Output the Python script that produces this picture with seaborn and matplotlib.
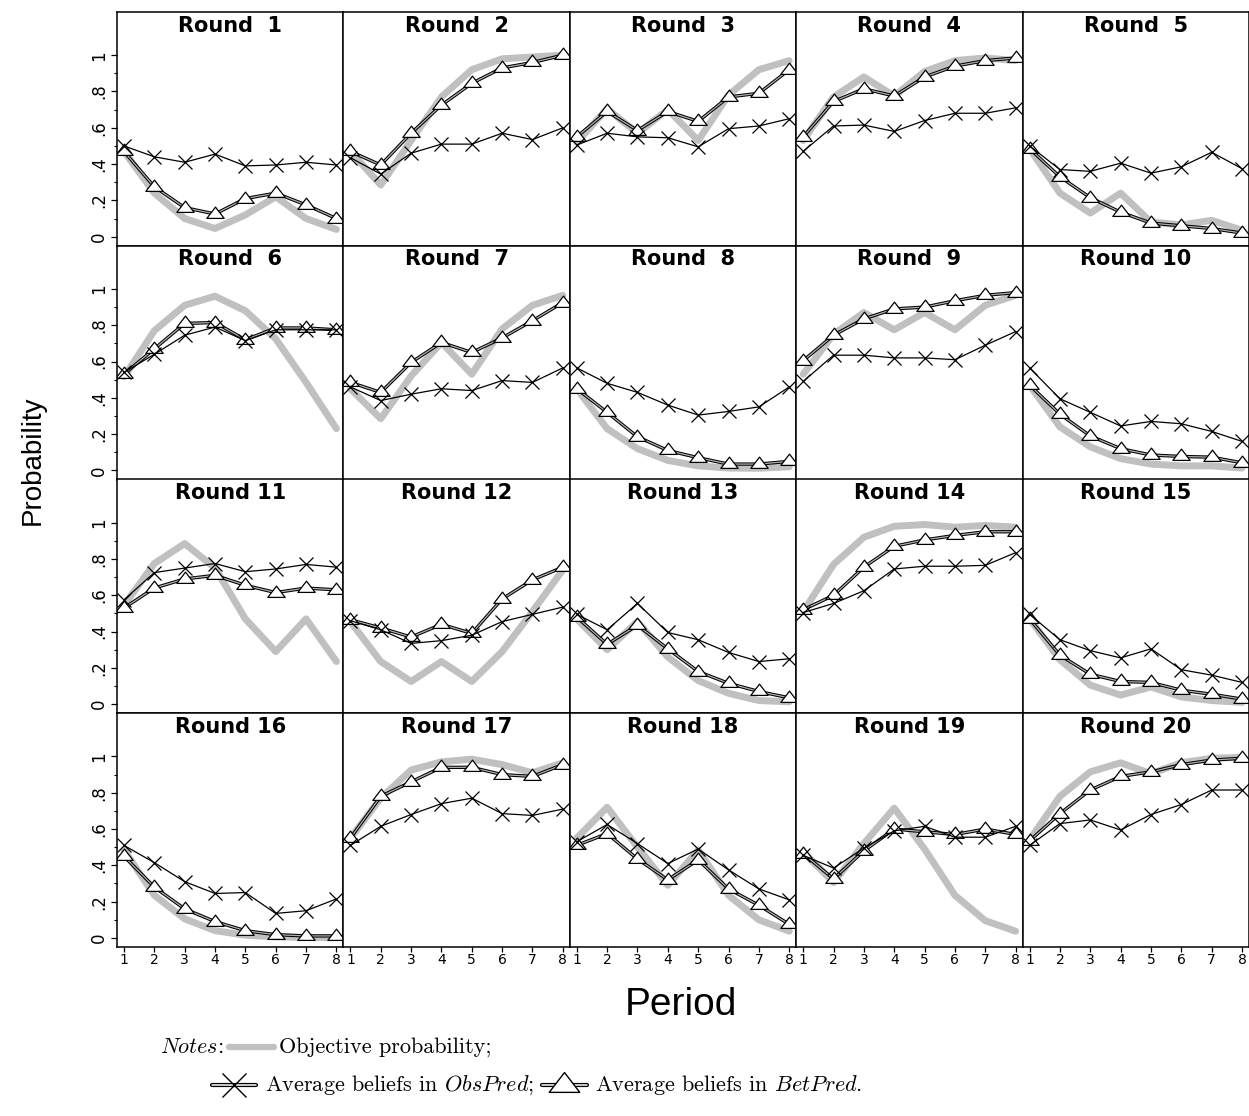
import numpy as np
import pandas as pd
import seaborn as sns
import matplotlib.pyplot as plt
from matplotlib.lines import Line2D
from matplotlib.path import Path
from matplotlib.offsetbox import HPacker, TextArea, DrawingArea, AnchoredOffsetbox


# Data (20 rounds x 8 periods)
periods = [1, 2, 3, 4, 5, 6, 7, 8]
round_labels = [f'Round  {r}' if r < 10 else f'Round {r}' for r in range(1, 21)]

objective = [
    [0.47, 0.24, 0.10, 0.045, 0.12, 0.22, 0.10, 0.04],
    [0.47, 0.285, 0.53, 0.77, 0.92, 0.98, 0.99, 1.0],
    [0.52, 0.705, 0.57, 0.70, 0.53, 0.78, 0.92, 0.97],
    [0.53, 0.77, 0.88, 0.775, 0.91, 0.97, 0.985, 0.97],
    [0.485, 0.24, 0.13, 0.24, 0.08, 0.065, 0.09, 0.035],
    [0.515, 0.77, 0.91, 0.96, 0.88, 0.725, 0.485, 0.23],
    [0.45, 0.285, 0.52, 0.705, 0.53, 0.78, 0.91, 0.965],
    [0.45, 0.23, 0.12, 0.055, 0.025, 0.013, 0.012, 0.02],
    [0.53, 0.75, 0.87, 0.775, 0.87, 0.775, 0.91, 0.965],
    [0.47, 0.24, 0.13, 0.065, 0.035, 0.025, 0.025, 0.013],
    [0.545, 0.775, 0.885, 0.75, 0.47, 0.29, 0.47, 0.235],
    [0.455, 0.235, 0.125, 0.235, 0.125, 0.29, 0.51, 0.74],
    [0.47, 0.30, 0.455, 0.26, 0.13, 0.06, 0.02, 0.013],
    [0.51, 0.77, 0.92, 0.98, 0.99, 0.975, 0.985, 0.975],
    [0.47, 0.245, 0.105, 0.05, 0.095, 0.04, 0.02, 0.01],
    [0.485, 0.235, 0.105, 0.04, 0.015, 0.006, 0.002, 0.002],
    [0.55, 0.77, 0.925, 0.97, 0.985, 0.955, 0.91, 0.965],
    [0.55, 0.72, 0.50, 0.29, 0.485, 0.235, 0.10, 0.037],
    [0.475, 0.305, 0.52, 0.715, 0.49, 0.235, 0.095, 0.037],
    [0.54, 0.78, 0.915, 0.965, 0.905, 0.965, 0.99, 0.995],
]

bet_pred = [
    [0.47, 0.275, 0.16, 0.125, 0.21, 0.24, 0.175, 0.10],
    [0.47, 0.395, 0.57, 0.725, 0.845, 0.93, 0.96, 1.0],
    [0.55, 0.69, 0.585, 0.69, 0.635, 0.77, 0.79, 0.92],
    [0.55, 0.745, 0.815, 0.775, 0.88, 0.94, 0.97, 0.985],
    [0.485, 0.33, 0.215, 0.135, 0.075, 0.06, 0.045, 0.02],
    [0.53, 0.67, 0.81, 0.815, 0.72, 0.785, 0.785, 0.775],
    [0.485, 0.43, 0.595, 0.705, 0.65, 0.73, 0.825, 0.925],
    [0.45, 0.32, 0.185, 0.11, 0.07, 0.035, 0.035, 0.05],
    [0.605, 0.745, 0.835, 0.89, 0.90, 0.935, 0.965, 0.98],
    [0.47, 0.31, 0.19, 0.12, 0.085, 0.077, 0.073, 0.042],
    [0.53, 0.64, 0.69, 0.71, 0.655, 0.615, 0.64, 0.63],
    [0.465, 0.42, 0.37, 0.44, 0.39, 0.58, 0.685, 0.755],
    [0.48, 0.33, 0.435, 0.305, 0.18, 0.115, 0.07, 0.035],
    [0.52, 0.60, 0.755, 0.87, 0.905, 0.93, 0.95, 0.95],
    [0.47, 0.27, 0.165, 0.125, 0.12, 0.077, 0.055, 0.028],
    [0.45, 0.28, 0.16, 0.09, 0.04, 0.018, 0.011, 0.011],
    [0.55, 0.78, 0.86, 0.94, 0.94, 0.90, 0.89, 0.955],
    [0.51, 0.575, 0.435, 0.32, 0.43, 0.27, 0.18, 0.075],
    [0.465, 0.325, 0.48, 0.60, 0.585, 0.57, 0.60, 0.57],
    [0.535, 0.685, 0.815, 0.89, 0.915, 0.955, 0.98, 0.99],
]

obs_pred = [
    [0.50, 0.44, 0.41, 0.455, 0.39, 0.395, 0.41, 0.395],
    [0.435, 0.345, 0.46, 0.51, 0.51, 0.57, 0.535, 0.60],
    [0.505, 0.57, 0.55, 0.545, 0.495, 0.595, 0.61, 0.65],
    [0.47, 0.61, 0.615, 0.58, 0.64, 0.68, 0.68, 0.71],
    [0.50, 0.37, 0.36, 0.405, 0.35, 0.385, 0.465, 0.375],
    [0.54, 0.64, 0.745, 0.79, 0.715, 0.775, 0.775, 0.775],
    [0.46, 0.385, 0.42, 0.45, 0.44, 0.495, 0.485, 0.565],
    [0.565, 0.48, 0.43, 0.36, 0.305, 0.325, 0.35, 0.46],
    [0.49, 0.635, 0.635, 0.62, 0.62, 0.61, 0.69, 0.765],
    [0.565, 0.395, 0.32, 0.245, 0.27, 0.257, 0.215, 0.16],
    [0.575, 0.725, 0.75, 0.775, 0.73, 0.745, 0.77, 0.755],
    [0.46, 0.41, 0.335, 0.35, 0.38, 0.455, 0.495, 0.535],
    [0.495, 0.41, 0.555, 0.395, 0.355, 0.285, 0.235, 0.25],
    [0.505, 0.555, 0.625, 0.745, 0.76, 0.76, 0.765, 0.835],
    [0.495, 0.355, 0.295, 0.255, 0.305, 0.19, 0.16, 0.12],
    [0.51, 0.415, 0.31, 0.245, 0.25, 0.135, 0.15, 0.215],
    [0.51, 0.615, 0.68, 0.74, 0.77, 0.685, 0.675, 0.71],
    [0.53, 0.625, 0.52, 0.41, 0.49, 0.375, 0.27, 0.21],
    [0.455, 0.385, 0.495, 0.59, 0.615, 0.555, 0.555, 0.615],
    [0.51, 0.63, 0.65, 0.595, 0.68, 0.735, 0.815, 0.815],
]

y_ticks = [0, 0.2, 0.4, 0.6, 0.8, 1]
y_tick_labels = ['0', '.2', '.4', '.6', '.8', '1']

# Long-form table for seaborn
records = []
for i, label in enumerate(round_labels):
    for j, p in enumerate(periods):
        records.append((label, p, 'objective', objective[i][j]))
        records.append((label, p, 'betpred', bet_pred[i][j]))
        records.append((label, p, 'obspred', obs_pred[i][j]))
df = pd.DataFrame(records, columns=['round', 'period', 'series', 'value'])

GRAY = '#c0c0c0'

# Wide, squat triangle like Stata's
tri = Path([(0, 0.85), (-1, -0.45), (1, -0.45), (0, 0.85)],
           [Path.MOVETO, Path.LINETO, Path.LINETO, Path.CLOSEPOLY])

sns.set_theme(style='white')
plt.rcParams['font.family'] = ['DejaVu Sans']
plt.rcParams['mathtext.fontset'] = 'cm'
plt.rcParams['text.color'] = 'black'
plt.rcParams['xtick.color'] = 'black'
plt.rcParams['ytick.color'] = 'black'
plt.rcParams['xtick.labelcolor'] = 'black'
plt.rcParams['ytick.labelcolor'] = 'black'

fig, axes = plt.subplots(4, 5, figsize=(12.49, 11.16), dpi=100, sharex=True, sharey=True)
fig.subplots_adjust(left=117 / 1249, right=1.0, top=1 - 12 / 1116,
                    bottom=1 - 947 / 1116, wspace=0, hspace=0)

for k, (ax, label) in enumerate(zip(axes.flat, round_labels)):
    row, col = divmod(k, 5)
    sub = df[df['round'] == label]
    obj = sub[sub['series'] == 'objective']
    bet = sub[sub['series'] == 'betpred']
    obs = sub[sub['series'] == 'obspred']

    sns.lineplot(data=obj, x='period', y='value', ax=ax, color=GRAY, linewidth=5.0,
                 errorbar=None, solid_joinstyle='round')
    # double line for BetPred
    sns.lineplot(data=bet, x='period', y='value', ax=ax, color='black', linewidth=2.4,
                 errorbar=None)
    sns.lineplot(data=bet, x='period', y='value', ax=ax, color='#b0b0b0', linewidth=0.9,
                 marker=tri, markersize=12.5, markerfacecolor='white',
                 markeredgecolor='black', markeredgewidth=0.9, errorbar=None)
    sns.lineplot(data=obs, x='period', y='value', ax=ax, color='black', linewidth=0.9,
                 marker='x', markersize=9.5, markeredgecolor='black',
                 markeredgewidth=0.9, errorbar=None)

    ax.text(0.5, 0.985, label, transform=ax.transAxes, ha='center', va='top',
            fontsize=15, fontweight='bold', color='black')

    ax.set_xlabel('')
    ax.set_ylabel('')
    for s in ax.spines.values():
        s.set_color('black')
        s.set_linewidth(1.1)

    ax.tick_params(axis='y', which='both', left=(col == 0), labelleft=(col == 0),
                   direction='out', color='black')
    ax.tick_params(axis='y', which='major', length=4.5, width=0.9, labelsize=12,
                   labelrotation=90, pad=2)
    ax.tick_params(axis='y', which='minor', length=2.5, width=0.8)
    ax.tick_params(axis='x', bottom=(row == 3), labelbottom=(row == 3), direction='out',
                   color='black', length=3.5, width=0.9, labelsize=10, pad=1)

ax0 = axes[0, 0]
ax0.set_xlim(0.77, 8.23)
ax0.set_ylim(-0.05, 1.238)
ax0.set_xticks(periods)
ax0.set_yticks(y_ticks, y_tick_labels)
ax0.set_yticks([0.1, 0.3, 0.5, 0.7, 0.9], minor=True)
for ax in axes[:, 0]:
    for t in ax.get_yticklabels():
        t.set_va('center')

fig.text(33 / 1249, 1 - 460 / 1116, 'Probability', rotation=90, ha='center', va='center',
         fontsize=20, family='Liberation Sans')
fig.text(681 / 1249, 1 - 1005 / 1116, 'Period', ha='center', va='center',
         fontsize=28, family='Liberation Sans')

# Notes block under the panels
note_font = dict(family='cmr10', size=16)


def key(kind):
    if kind == 'objective':
        da = DrawingArea(32, 14, 0, 0)
        da.add_artist(Line2D([0, 32], [7, 7], color=GRAY, lw=4.5))
        return da
    da = DrawingArea(32, 14, 0, 0)
    da.add_artist(Line2D([0, 32], [7, 7], color='black', lw=3.0))
    da.add_artist(Line2D([0, 32], [7, 7], color='white', lw=1.1))
    if kind == 'obspred':
        da.add_artist(Line2D([16], [7], marker='x', ms=17, mew=1.0, color='black', lw=0))
    else:
        da.add_artist(Line2D([16], [7], marker=tri, ms=22, mew=1.0, mfc='white',
                             mec='black', lw=0))
    return da


line1 = HPacker(children=[TextArea(r'$\mathit{Notes}$:', textprops=note_font),
                          key('objective'),
                          TextArea('Objective probability;', textprops=note_font)],
                sep=4, align='center')
line2 = HPacker(children=[key('obspred'),
                          TextArea(r'Average beliefs in $\mathit{ObsPred}$;', textprops=note_font),
                          HPacker(children=[key('betpred')], pad=0, sep=0),
                          TextArea(r'Average beliefs in $\mathit{BetPred}$.', textprops=note_font)],
                sep=6, align='center')
for box, x, y in [(line1, 160, 1047), (line2, 212, 1085)]:
    fig.add_artist(AnchoredOffsetbox(loc='center left', child=box, pad=0, borderpad=0,
                                     frameon=False, bbox_to_anchor=(x / 1249, 1 - y / 1116),
                                     bbox_transform=fig.transFigure))

plt.savefig('out.png', dpi=100)
plt.close()
